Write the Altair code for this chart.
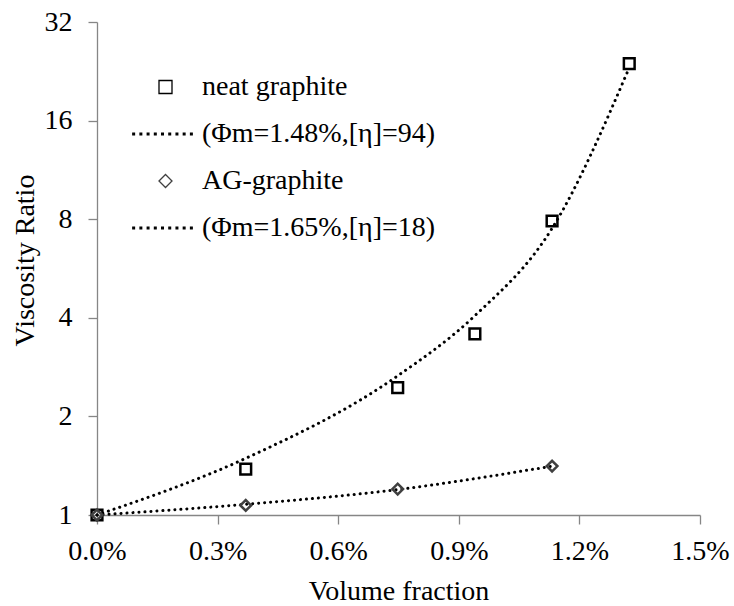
import altair as alt
import pandas as pd

# measured data (volume fraction as fraction, viscosity ratio)
neat_x = [0.0, 0.0037, 0.00748, 0.0094, 0.01132, 0.01324]
neat_y = [1.0, 1.38, 2.45, 3.57, 7.9, 23.9]
ag_x = [0.0, 0.0037, 0.00748, 0.01132]
ag_y = [1.0, 1.07, 1.20, 1.41]

# fitted curves
fit_neat_x = [0.0, 0.0037, 0.00748, 0.0094, 0.01132, 0.01324]
fit_neat_y = [1.0, 1.49, 2.66, 4.06, 7.5, 23.2]
fit_ag_x = [0.0, 0.0037, 0.00748, 0.01132]
fit_ag_y = [1.0, 1.078, 1.196, 1.41]

labels = ["neat graphite", "(\u03a6m=1.48%,[\u03b7]=94)", "AG-graphite", "(\u03a6m=1.65%,[\u03b7]=18)"]
x_ticks = [0.0, 0.003, 0.006, 0.009, 0.012, 0.015]
y_ticks = [1, 2, 4, 8, 16, 32]

FONT = "Liberation Serif"

pts = pd.DataFrame(
    {"x": neat_x + ag_x, "y": neat_y + ag_y,
     "label": [labels[0]] * len(neat_x) + [labels[2]] * len(ag_x)}
)
fit = pd.DataFrame(
    {"x": fit_neat_x + fit_ag_x, "y": fit_neat_y + fit_ag_y,
     "series": ["neat"] * len(fit_neat_x) + ["ag"] * len(fit_ag_x)}
)

# dotted legend sample as a custom symbol path
dots = []
for k in range(9):
    cx = -4.9 + k * 1.11
    dots.append(f"M{cx-0.13:.3f},-0.13h0.26v0.26h-0.26Z")
dot_path = "".join(dots)

xenc = alt.X("x:Q", scale=alt.Scale(domain=[0, 0.015], nice=False, zero=False),
             axis=alt.Axis(values=x_ticks, format=".1%", title="Volume fraction",
                           titleX=301.5, titleY=84, titleBaseline="alphabetic",
                           labelBaseline="alphabetic", labelPadding=35,
                           labelFont=FONT, titleFont=FONT))
yenc = alt.Y("y:Q", scale=alt.Scale(type="log", base=2, domain=[1, 32], nice=False),
             axis=alt.Axis(values=y_ticks, format="d", title="Viscosity Ratio",
                           titleX=-64, titleY=238, titleAngle=-90,
                           titleBaseline="alphabetic", titleAlign="center",
                           labelPadding=16, labelFont=FONT, titleFont=FONT))

leg = alt.Legend(orient="none", legendX=54.5, legendY=51, title=None,
                 labelFont=FONT, labelFontSize=28, labelColor="black", labelLimit=600,
                 symbolSize=169, symbolStrokeWidth=1.3, labelOffset=22.5,
                 rowPadding=19, padding=0)

lines = alt.Chart(fit).mark_line(
    color="black", strokeWidth=3, strokeDash=[0.1, 5.9], strokeCap="round",
    interpolate="monotone"
).encode(x=xenc, y=yenc, detail="series:N")

points = alt.Chart(pts).mark_point(filled=True, size=115, strokeWidth=2.5, opacity=1).encode(
    x=xenc, y=yenc,
    shape=alt.Shape("label:N", scale=alt.Scale(domain=labels, range=["square", dot_path, "diamond", dot_path]), legend=leg),
    fill=alt.Fill("label:N", scale=alt.Scale(domain=labels, range=["transparent", "black", "transparent", "black"]), legend=leg),
    stroke=alt.Stroke("label:N", scale=alt.Scale(domain=labels, range=["black", "black", "#404040", "black"]), legend=leg),
)

chart = alt.layer(lines, points).properties(
    width=603, height=493,
    autosize=alt.AutoSizeParams(type="none"),
    padding={"left": 97, "top": 22, "right": 34, "bottom": 91},
    background="white",
).configure_view(stroke=None).configure_axis(
    labelFontSize=28, titleFontSize=28,
    labelColor="black", titleColor="black", titleFontWeight="normal",
    domainColor="#868686", tickColor="#868686", domainWidth=1.3, tickWidth=1.3,
    tickSize=9, grid=False, labelFlush=False, labelOverlap=False,
)

chart.save("out.html", embed_options={"renderer": "svg", "actions": False})
